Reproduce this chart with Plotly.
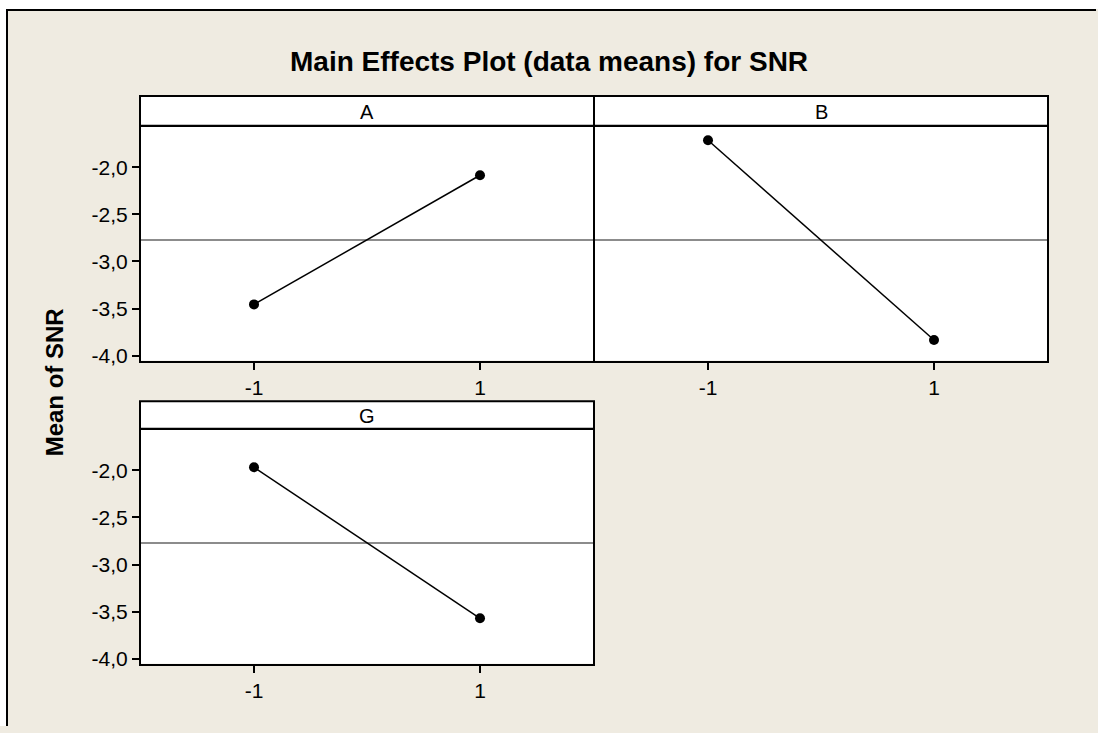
import numpy as np
import plotly.graph_objects as go

# ---------------- data ----------------
factors = ["A", "B", "G"]
levels = [-1, 1]
level_labels = ["-1", "1"]
means_A = [-3.455, -2.086]
means_B = [-1.715, -3.833]
means_G = [-1.969, -3.570]
y_tick_vals = [-4.0, -3.5, -3.0, -2.5, -2.0]
y_tick_text = ["-4,0", "-3,5", "-3,0", "-2,5", "-2,0"]
title_text = "Main Effects Plot (data means) for SNR"
y_title_text = "Mean of SNR"

series = {"A": means_A, "B": means_B, "G": means_G}
grand_mean = float(np.mean(means_A + means_B + means_G))

# ---------------- layout helpers ----------------
W, H = 1098, 733
FONT = "Liberation Sans, Arial, sans-serif"
BEIGE = "#EFEBE1"
LW = 2  # border line width


def fx(p):
    return p / W


def fy(p):
    return 1 - p / H


panels = {
    "A": dict(ax="", x0=140, x1=594, top=97, hb=127, bot=365, ylab=True),
    "B": dict(ax="2", x0=594, x1=1048, top=97, hb=127, bot=365, ylab=False),
    "G": dict(ax="3", x0=140, x1=594, top=405, hb=433, bot=671, ylab=True),
}
Y_RANGE = [-4.05, -1.572]
X_RANGE = [-2, 2]

fig = go.Figure()
layout = dict(
    width=W, height=H,
    autosize=False,
    margin=dict(l=0, r=0, t=0, b=0, pad=0),
    paper_bgcolor=BEIGE,
    plot_bgcolor="white",
    showlegend=False,
    font=dict(family=FONT, color="black"),
)

shapes = []
annotations = []
h = LW / 2

for name in factors:
    p = panels[name]
    ax = p["ax"]
    xa = "xaxis" + ax
    ya = "yaxis" + ax
    layout[xa] = dict(
        domain=[fx(p["x0"] + h), fx(p["x1"] - h)],
        range=X_RANGE,
        anchor="y" + ax,
        tickvals=levels, ticktext=level_labels,
        ticks="outside", ticklen=7, tickwidth=1.5, tickcolor="black",
        showline=True, linecolor="black", linewidth=LW, mirror=True,
        showgrid=False, zeroline=False,
        tickfont=dict(size=21, family=FONT, color="black"),
        fixedrange=True,
    )
    layout[ya] = dict(
        domain=[fy(p["bot"] - h), fy(p["hb"] + h)],
        range=Y_RANGE,
        anchor="x" + ax,
        tickvals=y_tick_vals, ticktext=y_tick_text,
        ticks="outside" if p["ylab"] else "",
        ticklen=7, tickwidth=1.5, tickcolor="black",
        showticklabels=p["ylab"],
        showline=True, linecolor="black", linewidth=LW, mirror=True,
        showgrid=False, zeroline=False,
        tickfont=dict(size=21, family=FONT, color="black"),
        fixedrange=True,
    )
    shapes.append(dict(
        type="line", xref="x" + ax + " domain", yref="y" + ax,
        x0=0, x1=1, y0=grand_mean, y1=grand_mean,
        line=dict(color="#666666", width=1.5), layer="below",
    ))
    shapes.append(dict(
        type="rect", xref="paper", yref="paper",
        x0=fx(p["x0"]), x1=fx(p["x1"]), y0=fy(p["hb"]), y1=fy(p["top"]),
        fillcolor="white", line=dict(color="black", width=LW), layer="above",
    ))
    annotations.append(dict(
        text=name, xref="paper", yref="paper",
        x=fx((p["x0"] + p["x1"]) / 2), y=fy((p["top"] + p["hb"]) / 2 + 1),
        xanchor="center", yanchor="middle", showarrow=False,
        font=dict(size=20, family=FONT, color="black"),
    ))
    fig.add_trace(go.Scatter(
        x=levels, y=series[name], mode="lines+markers",
        xaxis="x" + ax, yaxis="y" + ax,
        line=dict(color="black", width=1.5),
        marker=dict(color="black", size=10),
        hoverinfo="skip",
    ))

# outer frame: white strips at top & left, black border (drawn as filled rects)
shapes.append(dict(type="rect", xref="paper", yref="paper",
                   x0=0, x1=1, y0=fy(9), y1=1,
                   fillcolor="white", line=dict(width=0, color="white"),
                   layer="above"))
shapes.append(dict(type="rect", xref="paper", yref="paper",
                   x0=0, x1=fx(6), y0=0, y1=1,
                   fillcolor="white", line=dict(width=0, color="white"),
                   layer="above"))
shapes.append(dict(type="rect", xref="paper", yref="paper",
                   x0=fx(6), x1=fx(1096), y0=fy(11), y1=fy(9),
                   fillcolor="black", line=dict(width=0, color="black"),
                   layer="above"))
shapes.append(dict(type="rect", xref="paper", yref="paper",
                   x0=fx(6), x1=fx(8), y0=0, y1=fy(9),
                   fillcolor="black", line=dict(width=0, color="black"),
                   layer="above"))

annotations.append(dict(
    text="<b>" + title_text + "</b>", xref="paper", yref="paper",
    x=fx(549), y=fy(62), xanchor="center", yanchor="middle", showarrow=False,
    font=dict(size=28, family=FONT, color="black"),
))
annotations.append(dict(
    text="<b>" + y_title_text + "</b>", xref="paper", yref="paper",
    x=fx(54), y=fy(386), xanchor="center", yanchor="middle", showarrow=False,
    textangle=-90,
    font=dict(size=24, family=FONT, color="black"),
))

layout["shapes"] = shapes
layout["annotations"] = annotations
fig.update_layout(**layout)

fig.write_html("out.html", config={"displayModeBar": False})
